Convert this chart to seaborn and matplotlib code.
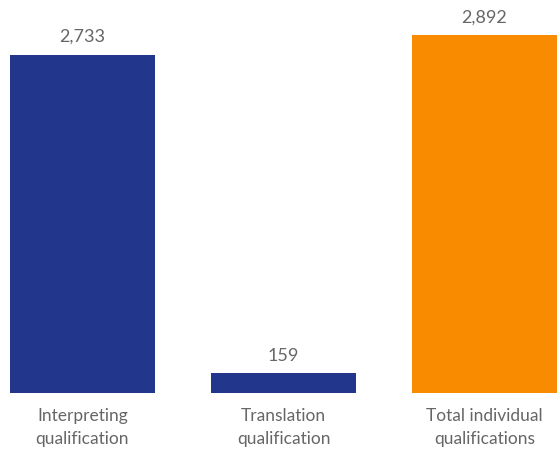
import matplotlib
matplotlib.use("Agg")
import matplotlib.pyplot as plt
import seaborn as sns
import pandas as pd

categories = ["Interpreting\nqualification", "Translation\nqualification", "Total individual\nqualifications"]
values = [2733, 159, 2892]
colors = ["#22378B", "#22378B", "#F88B00"]

sns.set_theme(style="white")
plt.rcParams["font.family"] = ["Lato", "DejaVu Sans"]

df = pd.DataFrame({"category": categories, "value": values})

fig = plt.figure(figsize=(5.6, 4.59), dpi=100)
ax = fig.add_axes([0, 66 / 459, 1, 393 / 459])

sns.barplot(data=df, x="category", y="value", hue="category", palette=colors,
            width=0.72, saturation=1, legend=False, linewidth=0, ax=ax)

ax.set_xlim(-82.5 / 201, -82.5 / 201 + 560 / 201)
ax.set_ylim(0, 393 * 2892 / 358)

for cont in ax.containers:
    ax.bar_label(cont, fmt="{:,.0f}", padding=7, fontsize=13, color="#666666")

ax.set_xlabel("")
ax.set_ylabel("")
ax.set_yticks([])
ax.tick_params(axis="x", length=0, pad=11, labelsize=12.5, labelcolor="#666666")
for lbl in ax.get_xticklabels():
    lbl.set_linespacing(1.5)
for s in ax.spines.values():
    s.set_visible(False)

fig.savefig("out.png", dpi=100)
